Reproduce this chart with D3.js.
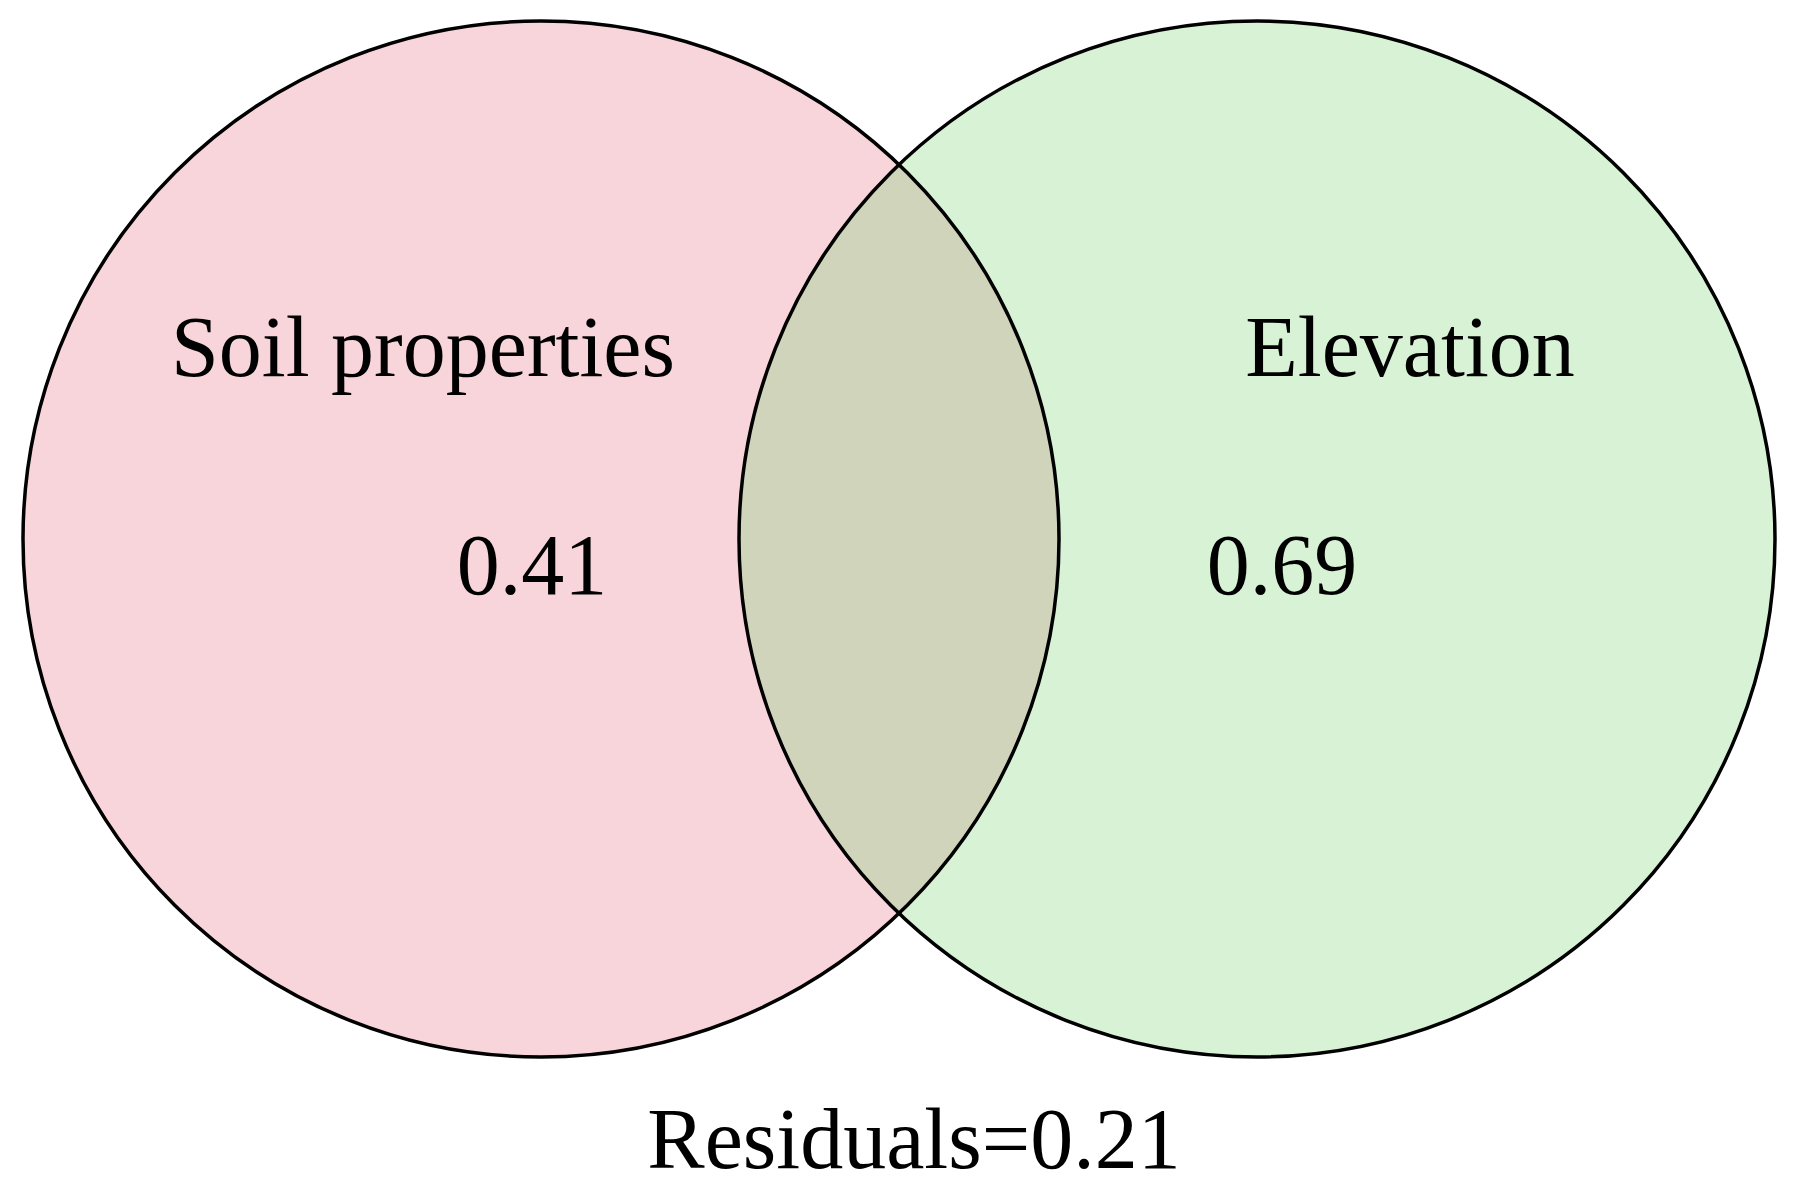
<!DOCTYPE html>
<html><head><meta charset="utf-8">
<script src="https://cdn.jsdelivr.net/npm/d3@7"></script>
<style>body{margin:0;background:#fff}svg{display:block}</style>
</head><body>
<script>
const sets = ["Soil properties", "Elevation"];
const uniqueValues = [0.41, 0.69];
const residualValue = 0.21;
const setColors = ["#f8d4db", "#d7f2d5"];
const overlapColor = "#d0d4ba";

const W = 1796, H = 1200;
const svg = d3.select("body").append("svg").attr("width", W).attr("height", H);
const x = d3.scaleLinear().domain([0, 1]).range([541, 1257]);
const cy = 539, r = 518;
const font = "'Liberation Serif','Times New Roman',serif";
const fs = 86;

svg.append("defs").append("clipPath").attr("id", "c0")
  .append("circle").attr("cx", x(0)).attr("cy", cy).attr("r", r);

svg.selectAll("circle.set").data(sets).join("circle").attr("class", "set")
  .attr("cx", (d, i) => x(i)).attr("cy", cy).attr("r", r)
  .attr("fill", (d, i) => setColors[i]);
svg.append("circle").attr("cx", x(1)).attr("cy", cy).attr("r", r)
  .attr("fill", overlapColor).attr("clip-path", "url(#c0)");
svg.selectAll("circle.edge").data(sets).join("circle").attr("class", "edge")
  .attr("cx", (d, i) => x(i)).attr("cy", cy).attr("r", r)
  .attr("fill", "none").attr("stroke", "#000").attr("stroke-width", 3.5);

const labelX = [423, 1410], valX = [532, 1282];
svg.selectAll("text.lab").data(sets).join("text").attr("class", "lab")
  .attr("x", (d, i) => labelX[i]).attr("y", 376).attr("text-anchor", "middle")
  .attr("font-family", font).attr("font-size", fs).text(d => d);
svg.selectAll("text.val").data(uniqueValues).join("text").attr("class", "val")
  .attr("x", (d, i) => valX[i]).attr("y", 594).attr("text-anchor", "middle")
  .attr("font-family", font).attr("font-size", fs).text(d => d.toFixed(2));
svg.append("text").attr("x", 914).attr("y", 1168).attr("text-anchor", "middle")
  .attr("font-family", font).attr("font-size", fs)
  .text("Residuals=" + residualValue.toFixed(2));
</script>
</body></html>
